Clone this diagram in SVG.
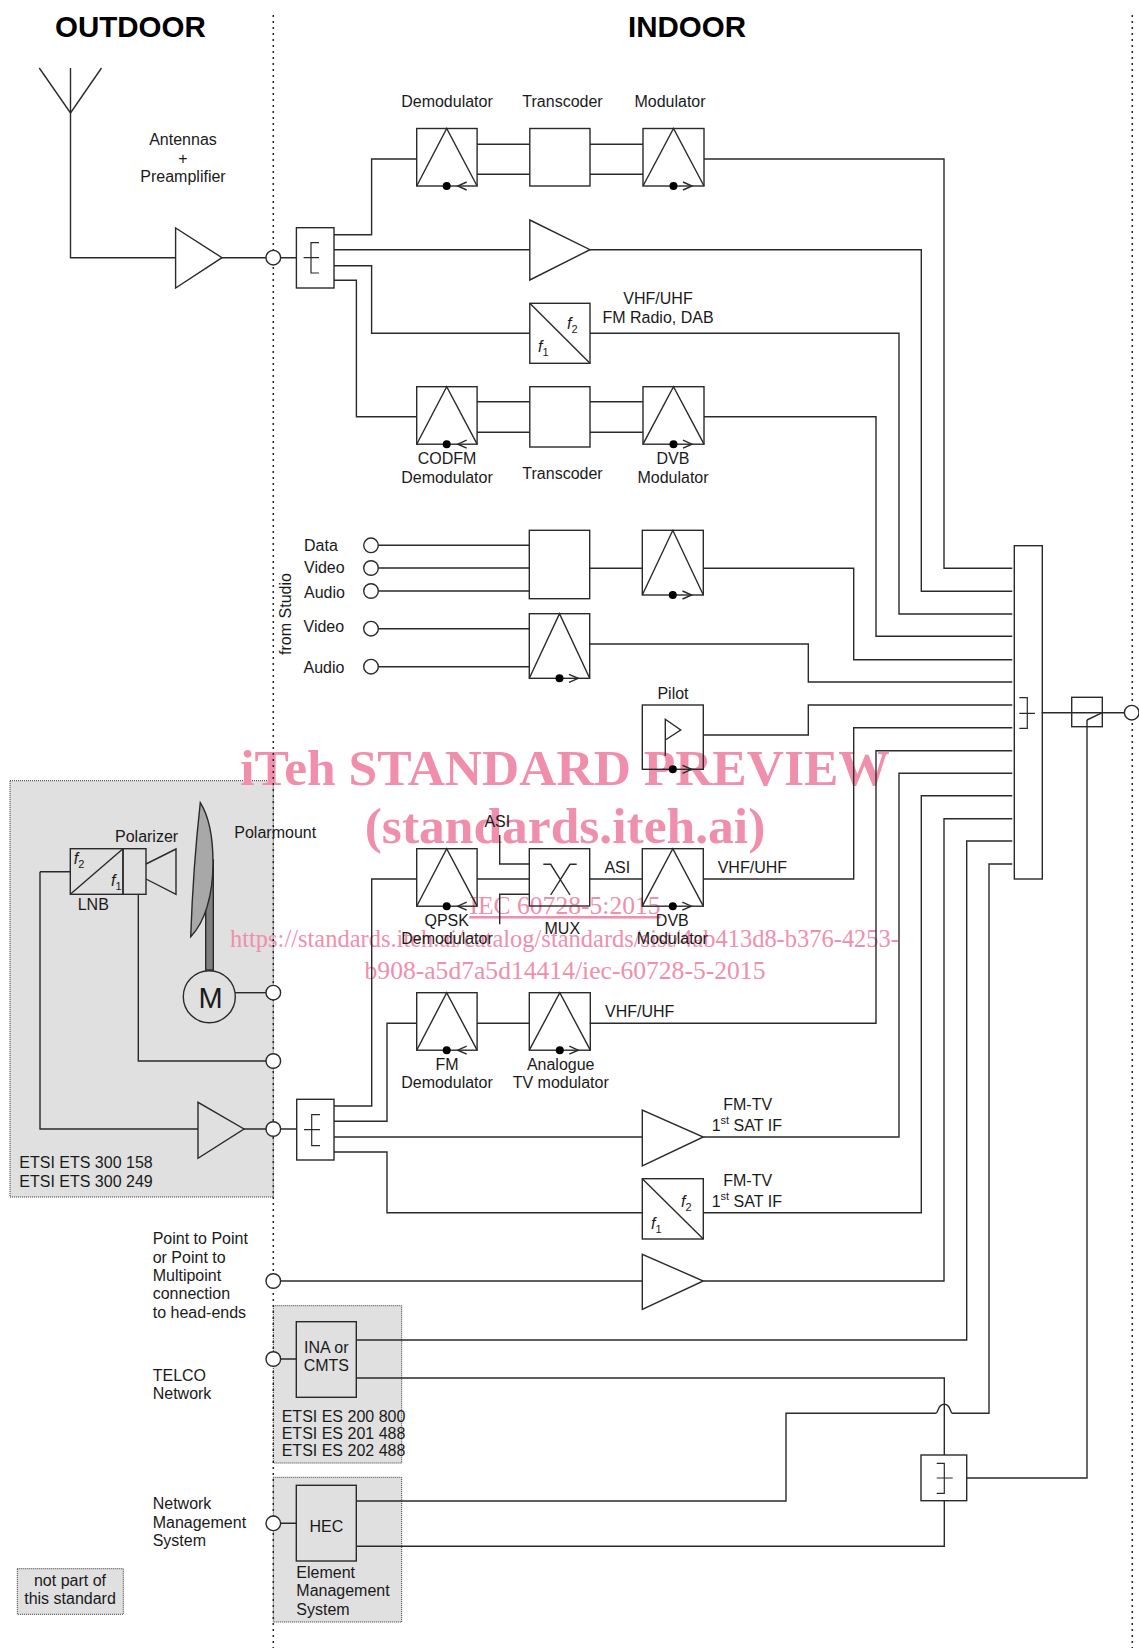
<svg xmlns="http://www.w3.org/2000/svg" width="1139" height="1648" viewBox="0 0 1139 1648">
<style>
text{font-family:"Liberation Sans",Arial,sans-serif;font-size:16px;fill:#1a1a1a}
.h{font-size:29.5px;font-weight:bold;fill:#000}
.c{text-anchor:middle}
.i{font-style:italic}
.s{font-size:11px;font-style:normal}
.wm{font-family:"Liberation Serif","Times New Roman",serif;fill:#f08fac;text-anchor:middle}
.w1{font-size:51.5px;font-weight:bold}
.w2{font-size:25.6px}
.ln,.ln path,.nd path,.nd rect,.nd circle,.o{fill:none;stroke:#2a2a2a;stroke-width:1.4}
.nd circle.p{fill:#fff}
.reg{fill:#e0e0e0;stroke:#333;stroke-width:1;stroke-dasharray:1 1}
.nd circle.dot,.dot{fill:#000;stroke:none}
.div{stroke:#222;stroke-width:1.5;stroke-dasharray:2 4;fill:none}
.nd path.thin{stroke-width:1.2}
</style>
<defs>
<g id="modR"><rect class="o" x="0" y="0" width="61" height="57.5"/><path class="o" d="M0,57.5L30.5,0L61,57.5"/><circle class="dot" cx="30.5" cy="57.5" r="4"/><path class="o" d="M40,53.5L49,57.5L40,61.5"/></g>
<g id="modL"><rect class="o" x="0" y="0" width="60.4" height="57.5"/><path class="o" d="M0,57.5L30,0L60.4,57.5"/><circle class="dot" cx="30" cy="57.5" r="4"/><path class="o" d="M50,53.5L41,57.5L50,61.5"/></g>
</defs>

<g id="regions">
<rect class="reg" x="10" y="780.7" width="263.3" height="416.3"/>
<rect class="reg" x="273.3" y="1305.7" width="128.4" height="157.3"/>
<rect class="reg" x="273.3" y="1477.3" width="128.4" height="144.7"/>
<rect class="reg" x="17.3" y="1568.7" width="106" height="45.6"/>
</g>

<g id="watermark">
<text class="wm w1" x="565" y="785">iTeh STANDARD PREVIEW</text>
<text class="wm w1" x="565" y="843">(standards.iteh.ai)</text>
<text class="wm w2" x="565" y="914" text-decoration="underline">IEC 60728-5:2015</text>
<text class="wm w2" x="564.5" y="947" textLength="669" lengthAdjust="spacingAndGlyphs">https://standards.iteh.ai/catalog/standards/sist/4ab413d8-b376-4253-</text>
<text class="wm w2" x="565" y="979">b908-a5d7a5d14414/iec-60728-5-2015</text>
</g>

<g id="dividers">
<path class="div" d="M273.3,15V1648"/>
<path class="div" d="M1132.3,15V1648"/>
</g>

<g id="connectors" class="ln">
<path d="M70.5,68V257.7H175.6"/>
<path d="M222,257.7H296.4"/>
<path d="M334,234.7H371.6V159H416.7"/>
<path d="M334,249.7H529.8"/>
<path d="M334,265.7H371.6V333.3H529.8"/>
<path d="M334,280.3H356.4V416.7H416.7"/>
<path d="M477,144.3H529.8M477,174.3H529.8M590,144.3H643M590,174.3H643"/>
<path d="M477,401.7H529.8M477,432.3H529.8M590,401.7H643M590,432.3H643"/>
<path d="M704,159H944V568.3H1012.3"/>
<path d="M590,249.7H921.3V591.3H1012.3"/>
<path d="M590,333.3H899V614H1012.3"/>
<path d="M704,416.7H876V636.3H1012.3"/>
<path d="M378.5,545.3H529.3M378.5,568H529.3M378.5,591H529.3M378.5,628.7H529.3M378.5,666.7H529.3"/>
<path d="M589.7,568.3H642.3M703.3,568.3H853.7V659.7H1012.3"/>
<path d="M589.7,644H808.3V682H1012.3"/>
<path d="M703.3,735H808.3V705H1012.3"/>
<path d="M703.3,879H853.7V727.7H1012.3"/>
<path d="M589.7,1023.3H876V750.7H1012.3"/>
<path d="M703.3,1137H899V773.3H1012.3"/>
<path d="M703.3,1212.7H921.3V795.7H1012.3"/>
<path d="M703.3,1281H944V818.7H1012.3"/>
<path d="M356.3,1340H966.7V841H1012.3"/>
<path d="M356.3,1501H786V1413.3H935.7C938.5,1413 937.5,1404.3 944.3,1404.3C951,1404.3 950,1413 952.3,1413.3H989V864H1012.3"/>
<path d="M356.3,1378H944.3V1455"/>
<path d="M356.3,1546.3H944.3V1500.7"/>
<path d="M966.7,1478H1087V720"/>
<path d="M1041.7,712.7H1124"/>
<path d="M40,871.7H70.3M40,871.7V1129H198"/>
<path d="M138.3,894.3V1061H266"/>
<path d="M235,992.7H266"/>
<path d="M244,1129H296.7"/>
<path d="M280.8,1359H296.3M280.8,1523.3H296.3"/>
<path d="M280.8,1281H642.3"/>
<path d="M334,1106H371.7V879H416.7"/>
<path d="M334,1121.3H387V1023.3H416.7"/>
<path d="M334,1137H642.3"/>
<path d="M334,1152H387V1212.7H642.3"/>
<path d="M477,879H529.3M589.7,879H642.3M477,1023.3H529.3"/>
<path d="M499.7,835V864H529.3M529.3,894.3H499.7V924.3"/>
</g>

<g id="antenna" class="nd"><path d="M39.3,68L70.5,113L101.5,68"/></g>
<g id="preamp" class="nd"><path d="M175.6,228V288L222,257.7Z"/></g>
<g id="splitter1" class="nd"><rect x="296.4" y="227.7" width="37.6" height="60.3"/><path class="thin" d="M303.6,257.7H319M319,242.7H311V273H319"/></g>
<g id="demod1" class="nd"><use href="#modL" x="416.7" y="128.5"/></g>
<g id="transcoder1" class="nd"><rect x="529.8" y="128.5" width="60.2" height="57.5"/></g>
<g id="mod1" class="nd"><use href="#modR" x="643" y="128.5"/></g>
<g id="amp1" class="nd"><path d="M529.8,220V280L590,249.7Z"/></g>
<g id="conv1" class="nd"><rect x="529.8" y="303.3" width="60.2" height="60"/><path d="M529.8,303.3L590,363.3"/></g>
<g id="demod2" class="nd"><use href="#modL" x="416.7" y="386.7"/></g>
<g id="transcoder2" class="nd"><rect x="529.8" y="386.7" width="60.2" height="60.3"/></g>
<g id="mod2" class="nd"><use href="#modR" x="643" y="386.7"/></g>
<g id="studio-in" class="nd"><circle class="p" cx="371" cy="545.3" r="7.3"/><circle class="p" cx="371" cy="568" r="7.3"/><circle class="p" cx="371" cy="591" r="7.3"/><circle class="p" cx="371" cy="628.7" r="7.3"/><circle class="p" cx="371" cy="666.7" r="7.3"/></g>
<g id="transcoder3" class="nd"><rect x="529.3" y="530.3" width="60.4" height="68.4"/></g>
<g id="mod3" class="nd"><rect x="642.3" y="530.3" width="61" height="64.7"/><path d="M642.3,595L672.8,530.3L703.3,595M682.5,591L691.7,595L682.5,599"/><circle class="dot" cx="672.8" cy="595" r="4"/></g>
<g id="mod4" class="nd"><rect x="529.3" y="613.7" width="60.4" height="64.6"/><path d="M529.3,678.3L559.5,613.7L589.7,678.3M569,674.3L578.3,678.3L569,682.3"/><circle class="dot" cx="559.5" cy="678.3" r="4"/></g>
<g id="pilot" class="nd"><rect x="642.3" y="705" width="61" height="64.3"/><path d="M665.3,756V719.3L680.7,730L665.3,740M682.5,765.3L691.7,769.3L682.5,773.3"/><circle class="dot" cx="672.8" cy="769.3" r="4"/></g>
<g id="combiner" class="nd"><rect x="1014.3" y="545.7" width="28" height="333.3"/><path class="thin" d="M1019.3,713.3H1035M1019.3,697.7H1027.3V728.3H1019.3"/></g>
<g id="switch" class="nd"><rect x="1071.7" y="697.3" width="30.6" height="29.4"/><path d="M1087,720L1102.3,712.7"/><circle class="p" cx="1131.7" cy="712.7" r="7.3"/></g>
<g id="lnb" class="nd"><rect x="70.3" y="848.7" width="52.7" height="45.6"/><path d="M70.3,894.3L123,848.7"/><rect x="123" y="848.7" width="23" height="45.6"/><path d="M146,864L176,849V894.3L146,879"/></g>
<g id="dish" class="nd"><rect style="fill:#808080" x="205.7" y="860" width="7.6" height="110"/><path style="fill:#a8a8a8" d="M200.3,802.7C208,815 213,835 213,863C213,895 205,922 190.7,936.7C192,900 195,850 200.3,802.7Z"/></g>
<g id="motor" class="nd"><circle cx="209.3" cy="996.7" r="26"/><text x="210.5" y="1008" class="c" style="font-size:29px">M</text></g>
<g id="ports" class="nd"><circle class="p" cx="273.3" cy="257.7" r="7.3"/><circle class="p" cx="273.3" cy="992.7" r="7.3"/><circle class="p" cx="273.3" cy="1061" r="7.3"/><circle class="p" cx="273.3" cy="1129" r="7.3"/><circle class="p" cx="273.3" cy="1281" r="7.3"/><circle class="p" cx="273.3" cy="1359" r="7.3"/><circle class="p" cx="273.3" cy="1523.3" r="7.3"/></g>
<g id="amp2" class="nd"><path d="M198,1102.3V1158.3L244,1129Z"/></g>
<g id="splitter2" class="nd"><rect x="296.7" y="1099.3" width="37.3" height="60.7"/><path class="thin" d="M304,1129.7H320M320,1114.7H311.7V1145.7H320"/></g>
<g id="demod3" class="nd"><use href="#modL" x="416.7" y="848.7"/></g>
<g id="mux" class="nd"><rect x="529.3" y="848.7" width="60.4" height="57.3"/><path d="M543.3,864.3H550.7L570,895M576.7,864.3H570L550.7,895"/></g>
<g id="mod5" class="nd"><use href="#modR" x="642.3" y="848.7"/></g>
<g id="demod4" class="nd"><use href="#modL" x="416.7" y="992.7"/></g>
<g id="mod6" class="nd"><use href="#modR" x="529.3" y="992.7"/></g>
<g id="amp3" class="nd"><path d="M642.3,1110V1166L703.3,1137Z"/></g>
<g id="conv2" class="nd"><rect x="642.3" y="1178.7" width="61" height="60.3"/><path d="M642.3,1178.7L703.3,1239"/></g>
<g id="amp4" class="nd"><path d="M642.3,1254.3V1309.3L703.3,1281Z"/></g>
<g id="ina" class="nd"><rect x="296.3" y="1321.7" width="60" height="75.6"/></g>
<g id="hec" class="nd"><rect x="296.3" y="1485.3" width="60" height="75.7"/></g>
<g id="splitter3" class="nd"><rect x="921" y="1455" width="45.7" height="45.7"/><path class="thin" d="M936.7,1478H952.7M936.7,1463.3H944.3V1493.3H936.7"/></g>

<g id="labels">
<text class="h" x="55" y="37">OUTDOOR</text>
<text class="h" x="628" y="37">INDOOR</text>
<text class="c" x="183" y="145">Antennas</text>
<text class="c" x="183" y="163.5">+</text>
<text class="c" x="183" y="182">Preamplifier</text>
<text class="c" x="447" y="107">Demodulator</text>
<text class="c" x="562.5" y="107">Transcoder</text>
<text class="c" x="670" y="107">Modulator</text>
<text class="c" x="658" y="304">VHF/UHF</text>
<text class="c" x="658" y="323">FM Radio, DAB</text>
<text class="i" x="538" y="352">f<tspan class="s" dy="4">1</tspan></text>
<text class="i" x="567" y="329">f<tspan class="s" dy="4">2</tspan></text>
<text class="c" x="447" y="464">CODFM</text>
<text class="c" x="447" y="482.5">Demodulator</text>
<text class="c" x="562.5" y="479">Transcoder</text>
<text class="c" x="673" y="464">DVB</text>
<text class="c" x="673" y="482.5">Modulator</text>
<text x="304" y="551">Data</text>
<text x="304" y="573">Video</text>
<text x="304" y="598">Audio</text>
<text x="303.5" y="632">Video</text>
<text x="303.5" y="673">Audio</text>
<text class="c" transform="translate(291,614) rotate(-90)">from Studio</text>
<text class="c" x="673" y="699">Pilot</text>
<text x="234.3" y="838">Polarmount</text>
<text x="115" y="841.7">Polarizer</text>
<text x="77.7" y="910">LNB</text>
<text class="i" x="73.7" y="864">f<tspan class="s" dy="4">2</tspan></text>
<text class="i" x="111" y="885.7">f<tspan class="s" dy="4">1</tspan></text>
<text x="19.3" y="1168">ETSI ETS 300 158</text>
<text x="19.3" y="1187">ETSI ETS 300 249</text>
<text class="c" x="497.3" y="826.7">ASI</text>
<text class="c" x="617.3" y="872.7">ASI</text>
<text x="717.7" y="872.7">VHF/UHF</text>
<text class="c" x="446.7" y="925.7">QPSK</text>
<text class="c" x="447" y="944">Demodulator</text>
<text class="c" x="562.3" y="934">MUX</text>
<text class="c" x="672.3" y="926">DVB</text>
<text class="c" x="672.3" y="944">Modulator</text>
<text x="605" y="1016.7">VHF/UHF</text>
<text class="c" x="447" y="1070">FM</text>
<text class="c" x="447" y="1088.3">Demodulator</text>
<text class="c" x="560.7" y="1070">Analogue</text>
<text class="c" x="560.7" y="1088.3">TV modulator</text>
<text class="c" x="747.7" y="1110">FM-TV</text>
<text x="711.7" y="1130.7">1<tspan class="s" dy="-7">st</tspan><tspan dy="7"> SAT IF</tspan></text>
<text class="c" x="747.7" y="1186">FM-TV</text>
<text x="711.7" y="1206.7">1<tspan class="s" dy="-7">st</tspan><tspan dy="7"> SAT IF</tspan></text>
<text class="i" x="681" y="1207.3">f<tspan class="s" dy="4">2</tspan></text>
<text class="i" x="651" y="1229.3">f<tspan class="s" dy="4">1</tspan></text>
<text x="152.7" y="1244">Point to Point</text>
<text x="152.7" y="1262.7">or Point to</text>
<text x="152.7" y="1281">Multipoint</text>
<text x="152.7" y="1299">connection</text>
<text x="152.7" y="1317.7">to head-ends</text>
<text x="152.7" y="1381">TELCO</text>
<text x="152.7" y="1399">Network</text>
<text x="152.7" y="1509">Network</text>
<text x="152.7" y="1527.7">Management</text>
<text x="152.7" y="1545.7">System</text>
<text class="c" x="326.3" y="1353.3">INA or</text>
<text class="c" x="326.3" y="1371">CMTS</text>
<text x="281.7" y="1422">ETSI ES 200 800</text>
<text x="281.7" y="1439">ETSI ES 201 488</text>
<text x="281.7" y="1456">ETSI ES 202 488</text>
<text class="c" x="326.3" y="1532">HEC</text>
<text x="296.3" y="1578.3">Element</text>
<text x="296.3" y="1596">Management</text>
<text x="296.3" y="1615">System</text>
<text class="c" x="70" y="1586">not part of</text>
<text class="c" x="70" y="1604">this standard</text>
</g>
</svg>
